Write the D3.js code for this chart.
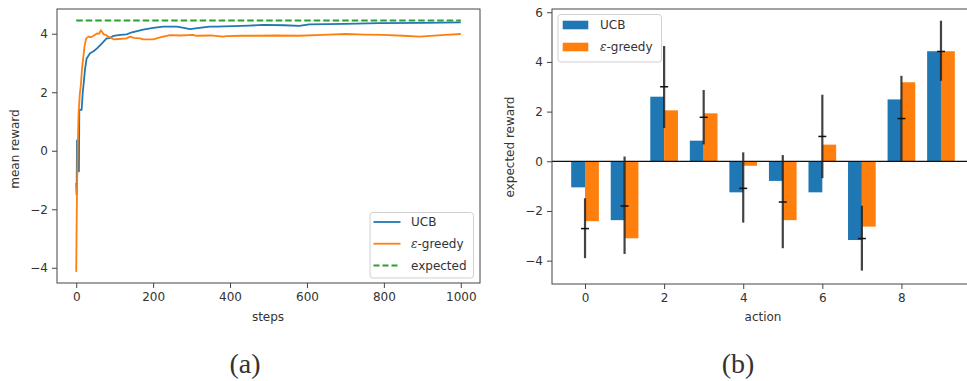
<!DOCTYPE html>
<html>
<head>
<meta charset="utf-8">
<script src="https://cdn.jsdelivr.net/npm/d3@7"></script>
<style>
  body { margin: 0; background: #fff; }
  svg { display: block; }
  text { font-family: "DejaVu Sans", sans-serif; fill: #333; }
</style>
</head>
<body>
<div id="chart"></div>
<script>
// ---- data (a): mean reward over steps
const stepTicks = [0, 200, 400, 600, 800, 1000];
const meanTicks = [-4, -2, 0, 2, 4];
const ucbCurve = [
  [0, -1.1], [1, -1.5], [2, 0.35], [4, 0.3], [5, -0.7], [7, -0.7], [8, 1.4], [14, 1.4],
  [17, 2.0], [19, 2.25], [23, 2.8], [27, 3.15], [36, 3.33], [45, 3.4], [54, 3.5],
  [67, 3.67], [79, 3.84], [88, 3.85], [97, 3.93], [115, 3.96], [131, 3.98], [145, 4.05],
  [161, 4.1], [174, 4.14], [200, 4.2], [226, 4.24], [244, 4.24], [261, 4.24], [280, 4.2],
  [296, 4.16], [320, 4.2], [347, 4.24], [364, 4.24], [408, 4.26], [450, 4.28], [486, 4.3],
  [540, 4.29], [580, 4.27], [606, 4.32], [700, 4.34], [788, 4.36], [900, 4.37], [1000, 4.39]
];
const greedyCurve = [
  [0, -4.14], [1, -2.6], [2, -1.4], [4, 0.2], [6, 1.22], [9, 1.9], [12, 2.25], [15, 2.8],
  [19, 3.27], [22, 3.6], [26, 3.84], [32, 3.9], [38, 3.88], [45, 3.93], [54, 4.01],
  [60, 4.0], [64, 4.12], [68, 4.05], [71, 3.98], [78, 3.95], [84, 3.9], [97, 3.81],
  [110, 3.82], [131, 3.84], [140, 3.9], [150, 3.86], [166, 3.84], [174, 3.81], [200, 3.81],
  [220, 3.88], [244, 3.95], [270, 3.94], [304, 3.96], [312, 3.93], [350, 3.94], [382, 3.9],
  [390, 3.92], [430, 3.93], [468, 3.93], [520, 3.94], [580, 3.93], [640, 3.96], [701, 3.99],
  [750, 3.97], [797, 3.96], [850, 3.93], [893, 3.9], [950, 3.95], [1000, 3.99]
];
const expectedCurve = [[0, 4.45], [1000, 4.45]];

// ---- data (b): expected reward per action
const actions = [0, 1, 2, 3, 4, 5, 6, 7, 8, 9];
const actionTicks = [0, 2, 4, 6, 8];
const rewardTicks = [-4, -2, 0, 2, 4, 6];
const ucbBars = [-1.05, -2.37, 2.6, 0.83, -1.25, -0.79, -1.25, -3.17, 2.49, 4.43];
const greedyBars = [-2.41, -3.1, 2.05, 1.93, -0.18, -2.37, 0.67, -2.63, 3.18, 4.43];
const trueMean = [-2.71, -1.8, 3.0, 1.77, -1.09, -1.64, 1.0, -3.11, 1.72, 4.42];
const trueLow = [-3.9, -3.73, 1.34, 0.68, -2.47, -3.5, -0.68, -4.4, 0.0, 3.24];
const trueHigh = [-1.49, 0.19, 4.64, 2.87, 0.36, 0.25, 2.68, -1.79, 3.44, 5.66];

const BLUE = "#1f77b4", ORANGE = "#ff7f0e", GREEN = "#2ca02c";

const svg = d3.select("#chart").append("svg")
  .attr("width", 967).attr("height", 381);

function frame(g, x0, y0, x1, y1) {
  g.append("rect")
    .attr("x", x0).attr("y", y0)
    .attr("width", x1 - x0).attr("height", y1 - y0)
    .attr("fill", "none").attr("stroke", "#444").attr("stroke-width", 1);
}

function styleAxis(sel) {
  sel.select(".domain").remove();
  sel.selectAll(".tick line").attr("stroke", "#444");
  sel.selectAll(".tick text")
    .attr("font-size", "12px")
    .attr("font-family", "DejaVu Sans, sans-serif")
    .attr("fill", "#333");
}

const fmt = d => d < 0 ? "\u2212" + Math.abs(d) : String(d);

// ================= panel (a) =================
const a = { left: 57, right: 480, top: 9, bottom: 283 };
const xA = d3.scaleLinear().domain([-50, 1050]).range([a.left, a.right]);
const yA = d3.scaleLinear().domain([-4.52, 4.845]).range([a.bottom, a.top]);

const gA = svg.append("g");
const lineA = d3.line().x(d => xA(d[0])).y(d => yA(d[1]));

gA.append("path").datum(ucbCurve).attr("d", lineA)
  .attr("fill", "none").attr("stroke", BLUE).attr("stroke-width", 1.8)
  .attr("stroke-linejoin", "round");
gA.append("path").datum(greedyCurve).attr("d", lineA)
  .attr("fill", "none").attr("stroke", ORANGE).attr("stroke-width", 1.8)
  .attr("stroke-linejoin", "round");
gA.append("path").datum(expectedCurve).attr("d", lineA)
  .attr("fill", "none").attr("stroke", GREEN).attr("stroke-width", 2)
  .attr("stroke-dasharray", "6.5,3");

gA.append("g").attr("transform", `translate(0,${a.bottom})`)
  .call(d3.axisBottom(xA).tickValues(stepTicks).tickSize(5).tickPadding(4).tickFormat(fmt))
  .call(styleAxis);
gA.append("g").attr("transform", `translate(${a.left},0)`)
  .call(d3.axisLeft(yA).tickValues(meanTicks).tickSize(5).tickPadding(4).tickFormat(fmt))
  .call(styleAxis);
frame(gA, a.left, a.top, a.right, a.bottom);

gA.append("text").text("steps")
  .attr("x", 268).attr("y", 321).attr("text-anchor", "middle").attr("font-size", "12px");
gA.append("text").text("mean reward")
  .attr("transform", "translate(19,149) rotate(-90)")
  .attr("text-anchor", "middle").attr("font-size", "12px");

// legend (a)
const legA = gA.append("g");
legA.append("rect").attr("x", 370).attr("y", 212.5).attr("width", 103.5).attr("height", 65.5)
  .attr("rx", 3).attr("fill", "rgba(255,255,255,0.8)").attr("stroke", "#d0d0d0");
const legAItems = [
  { label: "UCB", color: BLUE, dash: null },
  { label: "greedy", color: ORANGE, dash: null, eps: true },
  { label: "expected", color: GREEN, dash: "6,3" }
];
legAItems.forEach((it, i) => {
  const y = 222 + i * 21.7;
  legA.append("line").attr("x1", 373.5).attr("x2", 400.5).attr("y1", y).attr("y2", y)
    .attr("stroke", it.color).attr("stroke-width", it.dash ? 2 : 1.8)
    .attr("stroke-dasharray", it.dash);
  const t = legA.append("text").attr("x", 411).attr("y", y).attr("dy", "0.36em")
    .attr("font-size", "12px");
  if (it.eps) {
    t.append("tspan").attr("font-style", "italic").attr("font-family", "DejaVu Serif, serif").text("\u03b5");
    t.append("tspan").text("-" + it.label);
  } else {
    t.text(it.label);
  }
});

// caption (a)
svg.append("text").text("(a)")
  .attr("x", 245).attr("y", 373).attr("text-anchor", "middle")
  .attr("font-family", "Liberation Serif, serif").attr("font-size", "28px").attr("fill", "#000")
  .style("font-family", "Liberation Serif, serif");

// ================= panel (b) =================
const b = { left: 552, right: 974, top: 9, bottom: 284 };
const xB = d3.scaleLinear().domain([-0.835, 9.835]).range([b.left, b.right]);
const yB = d3.scaleLinear().domain([-4.94, 6.13]).range([b.bottom, b.top]);
const bw = 0.35;

const gB = svg.append("g");

gB.selectAll("rect.ucb").data(actions).enter().append("rect")
  .attr("class", "ucb")
  .attr("x", d => xB(d - bw))
  .attr("width", d => xB(d) - xB(d - bw))
  .attr("y", (d, i) => yB(Math.max(0, ucbBars[i])))
  .attr("height", (d, i) => Math.abs(yB(ucbBars[i]) - yB(0)))
  .attr("fill", BLUE);

gB.selectAll("rect.greedy").data(actions).enter().append("rect")
  .attr("class", "greedy")
  .attr("x", d => xB(d))
  .attr("width", d => xB(d + bw) - xB(d))
  .attr("y", (d, i) => yB(Math.max(0, greedyBars[i])))
  .attr("height", (d, i) => Math.abs(yB(greedyBars[i]) - yB(0)))
  .attr("fill", ORANGE);

// zero line
gB.append("line").attr("x1", b.left).attr("x2", b.right)
  .attr("y1", yB(0)).attr("y2", yB(0)).attr("stroke", "#111").attr("stroke-width", 1.2);

// error bars: true mean with spread
gB.selectAll("line.err").data(actions).enter().append("line")
  .attr("class", "err")
  .attr("x1", d => xB(d)).attr("x2", d => xB(d))
  .attr("y1", (d, i) => yB(trueLow[i])).attr("y2", (d, i) => yB(trueHigh[i]))
  .attr("stroke", "#222").attr("stroke-opacity", 0.85).attr("stroke-width", 2.2);
gB.selectAll("line.mean").data(actions).enter().append("line")
  .attr("class", "mean")
  .attr("x1", d => xB(d) - 4).attr("x2", d => xB(d) + 4)
  .attr("y1", (d, i) => yB(trueMean[i])).attr("y2", (d, i) => yB(trueMean[i]))
  .attr("stroke", "#111").attr("stroke-width", 1.5);

gB.append("g").attr("transform", `translate(0,${b.bottom})`)
  .call(d3.axisBottom(xB).tickValues(actionTicks).tickSize(5).tickPadding(4).tickFormat(fmt))
  .call(styleAxis);
gB.append("g").attr("transform", `translate(${b.left},0)`)
  .call(d3.axisLeft(yB).tickValues(rewardTicks).tickSize(5).tickPadding(4).tickFormat(fmt))
  .call(styleAxis);
frame(gB, b.left, b.top, b.right, b.bottom);

gB.append("text").text("action")
  .attr("x", 763).attr("y", 321).attr("text-anchor", "middle").attr("font-size", "12px");
gB.append("text").text("expected reward")
  .attr("transform", "translate(514,147) rotate(-90)")
  .attr("text-anchor", "middle").attr("font-size", "12px");

// legend (b)
const legB = gB.append("g");
legB.append("rect").attr("x", 558).attr("y", 14.5).attr("width", 103.5).attr("height", 47.5)
  .attr("rx", 3).attr("fill", "rgba(255,255,255,0.8)").attr("stroke", "#d0d0d0");
[{ label: "UCB", color: BLUE }, { label: "greedy", color: ORANGE, eps: true }].forEach((it, i) => {
  const y = 25 + i * 22;
  legB.append("rect").attr("x", 562.7).attr("y", y - 4.3).attr("width", 25.6).attr("height", 8.6)
    .attr("fill", it.color);
  const t = legB.append("text").attr("x", 600).attr("y", y).attr("dy", "0.36em")
    .attr("font-size", "12px");
  if (it.eps) {
    t.append("tspan").attr("font-style", "italic").attr("font-family", "DejaVu Serif, serif").text("\u03b5");
    t.append("tspan").text("-" + it.label);
  } else {
    t.text(it.label);
  }
});

// caption (b)
svg.append("text").text("(b)")
  .attr("x", 738).attr("y", 373).attr("text-anchor", "middle")
  .attr("font-size", "28px").attr("fill", "#000")
  .style("font-family", "Liberation Serif, serif");
</script>
</body>
</html>
